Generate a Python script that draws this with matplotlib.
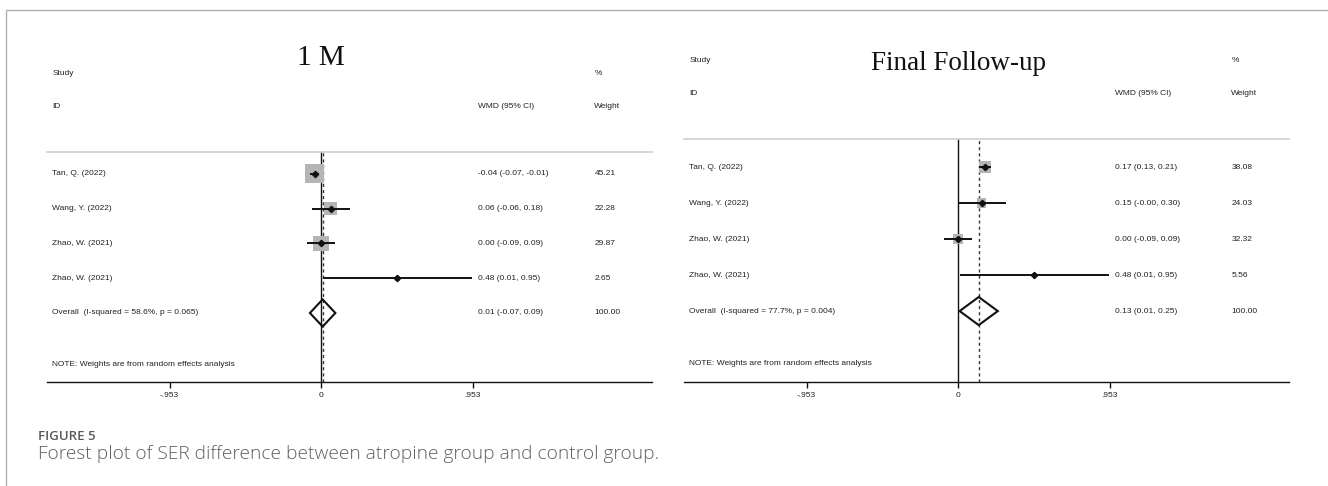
import matplotlib
matplotlib.use("Agg")
import matplotlib.pyplot as plt
from matplotlib.patches import Polygon
from matplotlib.lines import Line2D

# ---- data ----
studies = ["Tan, Q. (2022)", "Wang, Y. (2022)", "Zhao, W. (2021)", "Zhao, W. (2021)"]

m1_est = [-0.04, 0.06, 0.00, 0.48]
m1_lo = [-0.07, -0.06, -0.09, 0.01]
m1_hi = [-0.01, 0.18, 0.09, 0.95]
m1_weight = [45.21, 22.28, 29.87, 2.65]
m1_overall = [0.01, -0.07, 0.09]
m1_i2, m1_p = 58.6, 0.065

fu_est = [0.17, 0.15, 0.00, 0.48]
fu_lo = [0.13, -0.00, -0.09, 0.01]
fu_hi = [0.21, 0.30, 0.09, 0.95]
fu_weight = [38.08, 24.03, 32.32, 5.56]
fu_overall = [0.13, 0.01, 0.25]
fu_i2, fu_p = 77.7, 0.004

tick_values = [-0.953, 0, 0.953]
tick_labels = ["-.953", "0", ".953"]

small_font, small_size = "Liberation Sans", 6.0
txt = dict(family=small_font, fontsize=small_size, color="#222222", va="center")

W, H = 1328, 486
fig = plt.figure(figsize=(W / 100, H / 100), dpi=100)

# column positions in effect units
X_STUDY, X_CI, X_WEIGHT = -1.69, 0.99, 1.72
XLIM = (-1.724, 2.082)


def fmt(e, l, h):
    return f"{e:.2f} ({l:.2f}, {h:.2f})"


def panel(px, title, title_size, title_y, est, lo, hi, weight, box_k,
          overall, i2, p, ylim, study_y, id_y, note_y):
    x0, y0, x1, y1 = px
    ax = fig.add_axes([x0 / W, 1 - y1 / H, (x1 - x0) / W, (y1 - y0) / H])
    ax.set_xlim(*XLIM)
    ax.set_ylim(*ylim)
    for s in ("left", "right"):
        ax.spines[s].set_visible(False)
    ax.spines["top"].set_color("#cfcfcf")
    ax.spines["top"].set_linewidth(1.2)
    ax.spines["bottom"].set_color("#111111")
    ax.spines["bottom"].set_linewidth(1.0)
    ax.set_yticks([])
    ax.set_xticks(tick_values)
    ax.set_xticklabels(tick_labels, family=small_font, fontsize=small_size, color="#222222")
    ax.tick_params(axis="x", direction="out", length=4, width=1, pad=3.5, color="#111111")

    # null line and overall dashed line
    ax.axvline(0, color="#111111", lw=1.0, zorder=1)
    ax.axvline(overall[0], color="#333333", lw=1.0, ls=(0, (2.2, 2.2)), zorder=1)

    rows = list(range(1, len(est) + 1))
    ax.scatter(est, rows, s=[box_k * w for w in weight], marker="s",
               color="#b5b5b5", zorder=2, linewidths=0)
    ax.hlines(rows, lo, hi, color="#111111", lw=1.4, zorder=3)
    ax.plot(est, rows, ls="none", marker="D", ms=3.2, color="#111111", zorder=4)

    yo = len(est) + 1
    e, l, h = overall
    ax.add_patch(Polygon([(l, yo), (e, yo - 0.39), (h, yo), (e, yo + 0.39)],
                         closed=True, fill=False, ec="#111111", lw=1.5, zorder=4))

    # text columns
    for r, name, e_, l_, h_, w_ in zip(rows, studies, est, lo, hi, weight):
        ax.text(X_STUDY, r, name, **txt)
        ax.text(X_CI, r, fmt(e_, l_, h_), **txt)
        ax.text(X_WEIGHT, r, f"{w_:.2f}", **txt)
    ax.text(X_STUDY, yo, f"Overall  (I-squared = {i2:.1f}%, p = {p:.3f})", **txt)
    ax.text(X_CI, yo, fmt(e, l, h), **txt)
    ax.text(X_WEIGHT, yo, "100.00", **txt)
    ax.text(X_STUDY, note_y, "NOTE: Weights are from random effects analysis", **txt)

    ax.text(X_STUDY, study_y, "Study", **txt, clip_on=False)
    ax.text(X_WEIGHT, study_y, "%", **txt, clip_on=False)
    ax.text(X_STUDY, id_y, "ID", **txt, clip_on=False)
    ax.text(X_CI, id_y, "WMD (95% CI)", **txt, clip_on=False)
    ax.text(X_WEIGHT, id_y, "Weight", **txt, clip_on=False)

    ax.text(0, title_y, title, family="Liberation Serif", fontsize=title_size,
            ha="center", va="baseline", color="#111111", clip_on=False)
    return ax


panel((47, 152, 652, 382), "1 M", 21, -2.13,
      m1_est, m1_lo, m1_hi, m1_weight, 4.14, m1_overall, m1_i2, m1_p,
      ylim=(6.986, 0.367), study_y=-1.9, id_y=-0.93, note_y=6.47)

panel((684, 139, 1289, 382), "Final Follow-up", 19.5, -1.69,
      fu_est, fu_lo, fu_hi, fu_weight, 1.77, fu_overall, fu_i2, fu_p,
      ylim=(6.97, 0.222), study_y=-1.97, id_y=-1.03, note_y=6.47)

# page border (top and left)
fig.add_artist(Line2D([6 / W, 6 / W, 1], [0, 1 - 10 / H, 1 - 10 / H],
                      color="#b0b0b0", lw=1.0))

# caption
fig.text(38 / W, 1 - 437 / H, "FIGURE 5", family="Open Sans", fontsize=9.5,
         weight="semibold", color="#58595b", va="center")
fig.text(38 / W, 1 - 454 / H,
         "Forest plot of SER difference between atropine group and control group.",
         family="Open Sans", fontsize=13.8, weight="light", color="#5e5f61", va="center")

fig.savefig("out.png", dpi=100)
